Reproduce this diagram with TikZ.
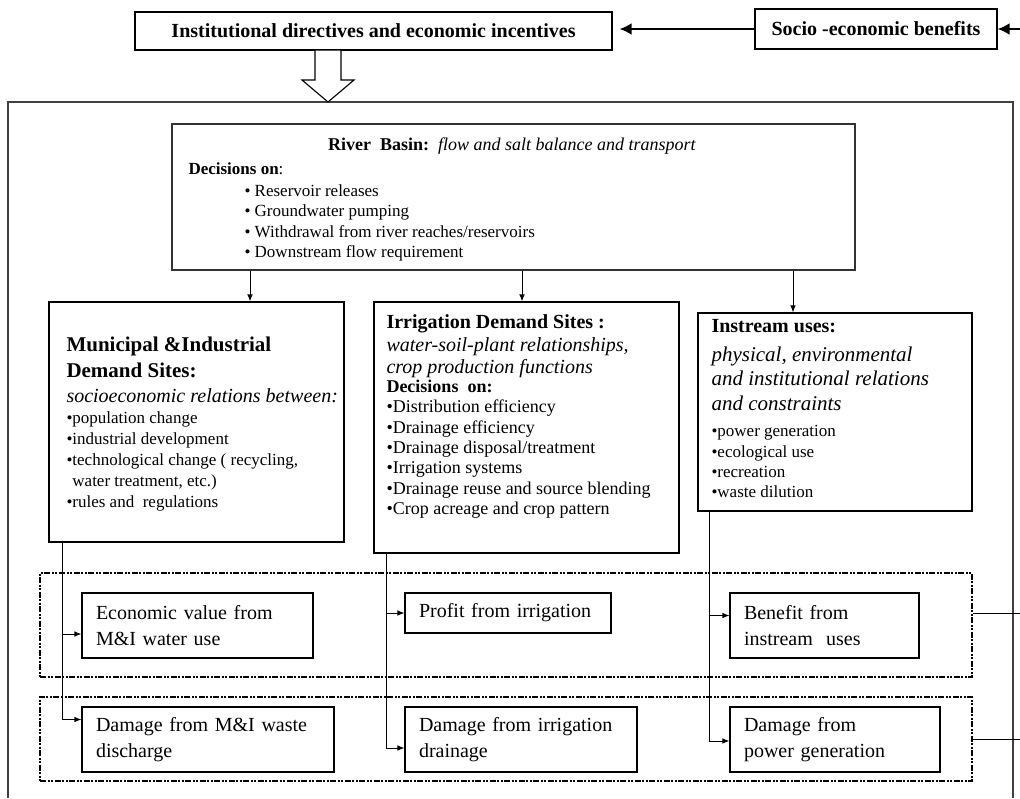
\documentclass[tikz,border=0pt]{standalone}
\usepackage{fontspec}
\setmainfont{Liberation Serif}
\usetikzlibrary{arrows.meta,positioning,calc}

\begin{document}
\begin{tikzpicture}[x=1pt, y=-1pt, >=Latex, line width=1pt]
  \tikzset{
    box/.style={rectangle, draw, line width=1.1pt, inner sep=0pt},
    txt/.style={anchor=north west, inner sep=0pt, align=left},
    outbox/.style={rectangle, draw, line width=1.1pt, align=left, inner xsep=14pt, inner ysep=0pt, font=\fontsize{20}{26}\selectfont},
    band/.style={rectangle, draw, line width=2pt, dash pattern=on 6pt off 1.5pt on 2pt off 1.5pt on 2pt off 1.5pt, inner sep=0pt},
    arr/.style={-{Latex[length=7pt,width=5.5pt]}, line width=0.9pt},
    fat/.style={-{Latex[length=12pt,width=12pt]}, line width=2.8pt}
  }
  \useasboundingbox (0,0) rectangle (1020,798);

  % outer frame (runs off the bottom)
  \draw[black!75, line width=1.2pt] (8,798) -- (8,102) -- (1013,102) -- (1013,798);

  % top row
  \node[box, minimum width=477pt, minimum height=38pt, font=\fontsize{20}{24}\selectfont\bfseries] (inst) at (373.5,31) {Institutional directives and economic incentives};
  \node[box, minimum width=242pt, minimum height=40pt, font=\fontsize{20}{24}\selectfont\bfseries] (socio) at (876,29) {Socio -economic benefits};
  \coordinate (rin) at (1020,29);
  \draw[fat] (rin) -- (socio.east);
  \draw[fat, shorten >=7pt] (socio.west) -- (socio.west -| inst.east);
  \draw[line width=1.1pt, fill=white] (315,50) -- (315,80) -- (302,80) -- (328,102) -- (354,80) -- (341,80) -- (341,50) -- cycle;

  % river basin
  \node[box, draw=black!80, minimum width=683pt, minimum height=146pt] (river) at (513.5,197) {};
  \node[inner sep=0pt, font=\fontsize{18}{22}\selectfont] (rtitle) at (512,146) {\textbf{River\ \ Basin:}\ \ \textit{flow and salt balance and transport}};
  \node[txt, font=\fontsize{17}{20.5}\selectfont] (rdec) at (188,162) {\textbf{Decisions on}:};
  \node[txt, font=\fontsize{17}{20.5}\selectfont] (rlist) at (244,184) {• Reservoir releases\\• Groundwater pumping\\• Withdrawal from river reaches/reservoirs\\• Downstream flow requirement};

  % demand sites
  \node[box, minimum width=295pt, minimum height=240pt] (mibox) at (196.5,422) {};
  \node[txt, font=\fontsize{21}{26}\selectfont\bfseries] (mihead) at (66,336) {Municipal \&Industrial\\Demand Sites:};
  \node[txt, font=\fontsize{20}{24}\selectfont\itshape] (miital) at (66,388) {socioeconomic relations between:};
  \node[txt, font=\fontsize{17}{21}\selectfont] (milist) at (66,411) {•population change\\•industrial development\\•technological change ( recycling,\\\phantom{•}water treatment, etc.)\\•rules and\ \ regulations};

  \node[box, minimum width=305pt, minimum height=251pt] (irbox) at (526.5,427.5) {};
  \node[txt, font=\fontsize{20}{24}\selectfont\bfseries] (irhead) at (386,314) {Irrigation Demand Sites :};
  \node[txt, font=\fontsize{20}{22.5}\selectfont\itshape] (irital) at (386,337) {water-soil-plant relationships,\\crop production functions};
  \node[txt, font=\fontsize{18}{21}\selectfont\bfseries] (irdec) at (386,380) {Decisions\ \ on:};
  \node[txt, font=\fontsize{18}{20.4}\selectfont] (irlist) at (386,399.5) {•Distribution efficiency\\•Drainage efficiency\\•Drainage disposal/treatment\\•Irrigation systems\\•Drainage reuse and source blending\\•Crop acreage and crop pattern};

  \node[box, minimum width=274pt, minimum height=198pt] (isbox) at (835,412) {};
  \node[txt, font=\fontsize{20}{24}\selectfont\bfseries] (ishead) at (711,319) {Instream uses:};
  \node[txt, font=\fontsize{21}{24.5}\selectfont\itshape] (isital) at (711,346) {physical, environmental\\and institutional relations\\and constraints};
  \node[txt, font=\fontsize{17}{20.3}\selectfont] (islist) at (711,425) {•power generation\\•ecological use\\•recreation\\•waste dilution};

  \coordinate (c1) at (250,0);
  \coordinate (c2) at (522,0);
  \coordinate (c3) at (793,0);
  \draw[arr] (river.south -| c1) -- (mibox.north -| c1);
  \draw[arr] (river.south -| c2) -- (irbox.north -| c2);
  \draw[arr] (river.south -| c3) -- (isbox.north -| c3);

  % benefit and damage bands
  \node[band, minimum width=932pt, minimum height=104pt] (band1) at (506,625) {};
  \node[band, minimum width=932pt, minimum height=84pt] (band2) at (506,739) {};

  \node[outbox, text width=203pt, minimum height=65pt] (ev) at (197.5,625.5) {Economic value from\\M\&I water use};
  \node[outbox, text width=178pt, minimum height=40pt] (pi) at (508,613) {Profit from irrigation};
  \node[outbox, text width=161pt, minimum height=65pt] (bi) at (824.5,625.5) {Benefit from\\instream\ \ uses};
  \node[outbox, text width=224pt, minimum height=65pt] (dm) at (208,739.5) {Damage from M\&I waste\\discharge};
  \node[outbox, text width=204pt, minimum height=65pt] (di) at (521,739.5) {Damage from irrigation\\drainage};
  \node[outbox, text width=182pt, minimum height=65pt] (dp) at (835,739.5) {Damage from\\power generation};

  \coordinate (l1) at (62,0);
  \coordinate (l2) at (386,0);
  \coordinate (l3) at (709,0);
  \draw[arr] (mibox.south -| l1) |- ([yshift=-8.5pt]ev.west);
  \draw[arr] (mibox.south -| l1) |- ([yshift=20pt]dm.west);
  \draw[arr] (irbox.south -| l2) |- (pi.west);
  \draw[arr] (irbox.south -| l2) |- ([yshift=-8.5pt]di.west);
  \draw[arr] (isbox.south -| l3) |- ([yshift=10pt]bi.west);
  \draw[arr] (isbox.south -| l3) |- ([yshift=-1.5pt]dp.west);

  \coordinate (r1) at (1020,613);
  \coordinate (r2) at (1020,739);
  \draw[line width=0.9pt] (band1.east |- r1) -- (r1);
  \draw[line width=0.9pt] (band2.east |- r2) -- (r2);
\end{tikzpicture}
\end{document}
